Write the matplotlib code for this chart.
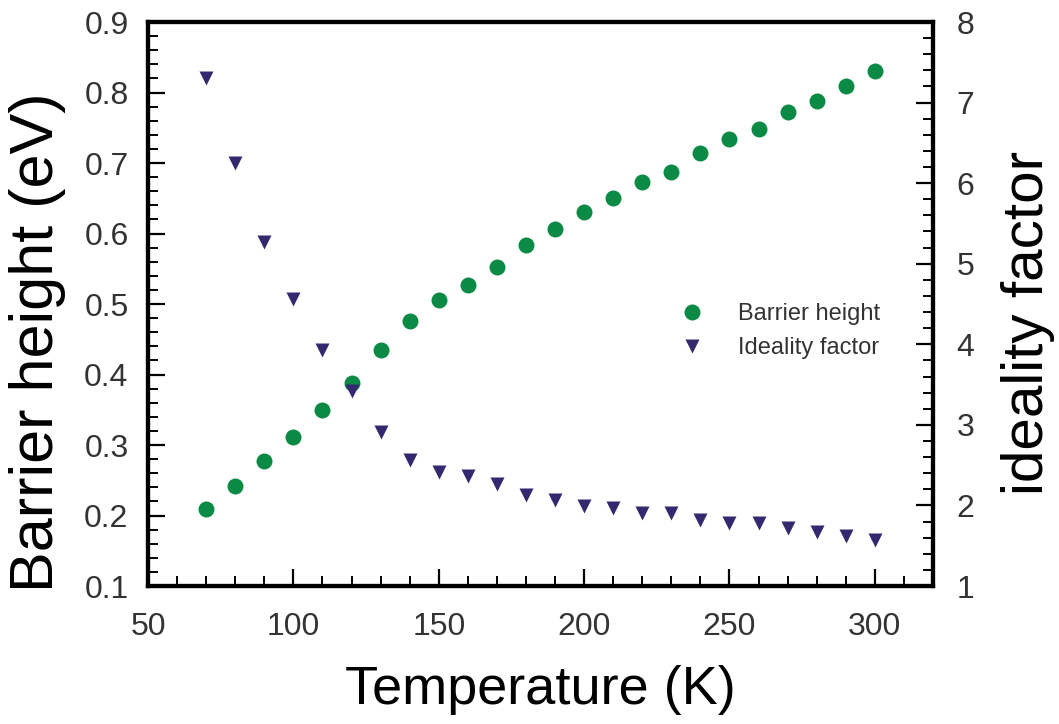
import matplotlib
matplotlib.use("Agg")
import matplotlib.pyplot as plt
from matplotlib.ticker import MultipleLocator

# ── Data ──────────────────────────────────────────────────────────────────────
temperature = [70, 80, 90, 100, 110, 120, 130, 140, 150, 160, 170, 180,
               190, 200, 210, 220, 230, 240, 250, 260, 270, 280, 290, 300]
barrier_height = [0.209, 0.242, 0.277, 0.312, 0.349, 0.388, 0.435, 0.476,
                  0.506, 0.527, 0.553, 0.584, 0.607, 0.631, 0.650, 0.673,
                  0.687, 0.714, 0.734, 0.748, 0.772, 0.788, 0.809, 0.830]
ideality_factor = [7.31, 6.25, 5.27, 4.56, 3.93, 3.42, 2.91, 2.56,
                   2.41, 2.36, 2.27, 2.13, 2.07, 1.99, 1.97, 1.91,
                   1.91, 1.82, 1.78, 1.78, 1.72, 1.67, 1.62, 1.57]

GREEN = "#0b8a45"
NAVY = "#34296e"

plt.rcParams["font.family"] = ["Liberation Sans", "DejaVu Sans"]

fig = plt.figure(figsize=(10.59, 7.24), dpi=100)
ax = fig.add_axes([0.1398, 0.1906, 0.7412, 0.779])
ax2 = ax.twinx()

ax.plot(temperature, barrier_height, "o", color=GREEN, ms=11.5,
        mec="none", label="Barrier height")
ax2.plot(temperature, ideality_factor, "v", color=NAVY, ms=10.5,
         mec="none", label="Ideality factor")

ax.set_xlim(50, 320)
ax.set_ylim(0.1, 0.9)
ax2.set_ylim(1, 8)

ax.xaxis.set_major_locator(MultipleLocator(50))
ax.xaxis.set_minor_locator(MultipleLocator(10))
ax.yaxis.set_major_locator(MultipleLocator(0.1))
ax.yaxis.set_minor_locator(MultipleLocator(0.02))
ax2.yaxis.set_major_locator(MultipleLocator(1))
ax2.yaxis.set_minor_locator(MultipleLocator(0.2))
ax.yaxis.set_major_formatter(plt.FuncFormatter(lambda v, p: f"{v:.1f}"))

for a in (ax, ax2):
    a.tick_params(which="major", direction="in", length=12, width=1.6,
                  labelsize=23, colors="black", labelcolor="#333333")
    a.tick_params(which="minor", direction="in", length=7, width=1.4)
    for s in a.spines.values():
        s.set_linewidth(3)
ax.tick_params(axis="x", which="both", top=False, pad=19)
ax.tick_params(axis="y", which="both", right=False, pad=14)
ax2.tick_params(axis="y", which="both", left=False, pad=17)

ax.set_xlabel("Temperature (K)", fontsize=39, labelpad=16)
ax.set_ylabel("Barrier height (eV)", fontsize=44, labelpad=13)
ax2.set_ylabel("ideality factor", fontsize=42, labelpad=19)
# labels sit a bit below the axes centre in the original
ax.yaxis.label.set_y(0.433)
ax2.yaxis.label.set_y(0.466)

h1, l1 = ax.get_legend_handles_labels()
h2, l2 = ax2.get_legend_handles_labels()
ax.legend(h1 + h2, l1 + l2, loc="center left", bbox_to_anchor=(0.6355, 0.452),
          frameon=False, fontsize=17, handletextpad=0.95, labelspacing=0.5,
          labelcolor="#333333")

plt.savefig("out.png", dpi=100)
